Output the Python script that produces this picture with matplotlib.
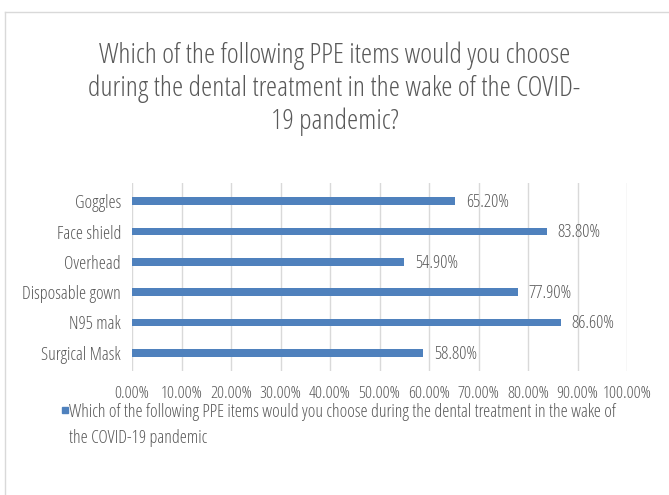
import matplotlib
matplotlib.use("Agg")
import matplotlib.pyplot as plt
from matplotlib.patches import Rectangle
from matplotlib.ticker import FuncFormatter

# PPE items, listed bottom to top as drawn
items = ["Surgical Mask", "N95 mak", "Disposable gown", "Overhead", "Face shield", "Goggles"]
shares = [58.8, 86.6, 77.9, 54.9, 83.8, 65.2]

title = ("Which of the following PPE items would you choose\n"
         "during the dental treatment in the wake of the COVID-\n"
         "19 pandemic?")
series_name = ("Which of the following PPE items would you choose during the dental treatment in the wake of\n"
               "the COVID-19 pandemic")

bar_color = "#4F81BD"
text_color = "#595959"
plt.rcParams["font.family"] = ["Open Sans", "DejaVu Sans"]
plt.rcParams["font.stretch"] = "condensed"
plt.rcParams["font.weight"] = 300

fig = plt.figure(figsize=(6.69, 4.95), dpi=100)
ax = fig.add_axes([132 / 669, 1 - 371 / 495, 495 / 669, 188 / 495])

# chart border (only top and left edges visible)
fig.add_artist(plt.Line2D([5 / 669, 5 / 669], [0, 1 - 12 / 495], color="#D9D9D9", lw=1))
fig.add_artist(plt.Line2D([5 / 669, 1], [1 - 12 / 495, 1 - 12 / 495], color="#D9D9D9", lw=1))

y = range(len(items))
ax.barh(y, shares, height=0.26, color=bar_color, zorder=3)
for yi, v in zip(y, shares):
    ax.text(v + 2.2, yi - 0.03, f"{v:.2f}%", va="center", ha="left", fontsize=13, color=text_color)

ax.set_xlim(0, 100)
ax.set_ylim(-0.6, len(items) - 0.4)
ax.set_xticks(range(0, 101, 10))
ax.xaxis.set_major_formatter(FuncFormatter(lambda v, p: f"{v:.2f}%"))
ax.set_yticks(list(y))
ax.set_yticklabels(items)
ax.tick_params(axis="both", length=0, labelcolor=text_color)
ax.tick_params(axis="x", pad=11, labelsize=12.5)
ax.tick_params(axis="y", pad=8, labelsize=13)
ax.grid(axis="x", color="#D9D9D9", lw=1, zorder=0)
for s in ax.spines.values():
    s.set_visible(False)

fig.text(0.5, 1 - 89 / 495, title, ha="center", va="center", fontsize=20.5,
         color=text_color, linespacing=1.2)

# legend entry
fig.add_artist(Rectangle((62 / 669, 1 - 413 / 495), 6 / 669, 6 / 495, color=bar_color,
                         transform=fig.transFigure))
fig.text(69 / 669, 1 - 425 / 495, series_name, ha="left", va="center", fontsize=13,
         color=text_color, linespacing=1.55)

fig.savefig("out.png", dpi=100)
